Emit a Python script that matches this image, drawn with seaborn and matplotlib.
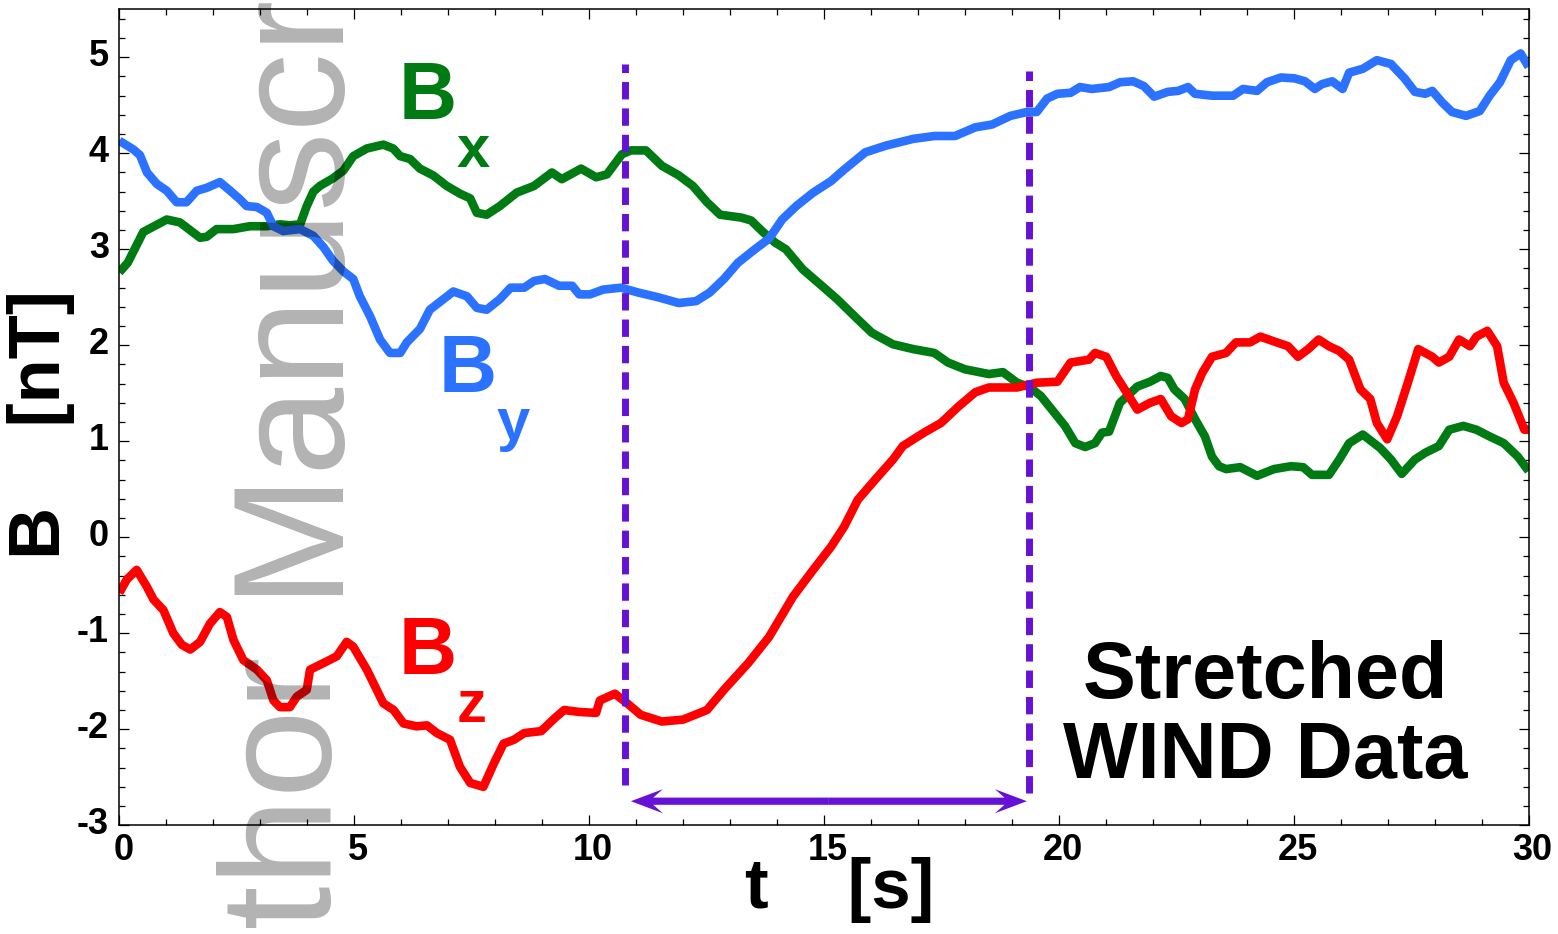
import matplotlib
matplotlib.use("Agg")
import matplotlib.pyplot as plt
import matplotlib.transforms as mtransforms
from matplotlib.ticker import MultipleLocator, FixedLocator, FixedFormatter
from matplotlib.patches import FancyArrow
import seaborn as sns

# ---------------- data ----------------
bx_t = [0, 0.18, 0.51, 1.01, 1.29, 1.72, 1.86, 2.07, 2.43, 2.78,
        3.14, 3.42, 3.63, 3.85, 3.99, 4.13, 4.27, 4.55, 4.77, 4.98,
        5.27, 5.62, 5.83, 5.98, 6.19, 6.40, 6.68, 6.97, 7.25, 7.47,
        7.61, 7.82, 8.10, 8.46, 8.83, 9.21, 9.42, 9.83, 10.15, 10.38,
        10.70, 10.89, 11.21, 11.55, 11.91, 12.21, 12.51, 12.79, 13.24, 13.45,
        13.68, 13.96, 14.19, 14.55, 15.00, 15.28, 15.72, 16.02, 16.47, 16.90,
        17.35, 17.64, 18.00, 18.51, 18.81, 19.11, 19.39, 19.62, 19.90, 20.13,
        20.35, 20.56, 20.77, 20.92, 21.07, 21.30, 21.67, 21.94, 22.17, 22.32,
        22.46, 22.68, 22.90, 23.11, 23.26, 23.41, 23.56, 23.86, 24.22, 24.58,
        24.94, 25.20, 25.39, 25.75, 25.97, 26.18, 26.47, 26.84, 27.07, 27.30,
        27.58, 27.80, 28.09, 28.31, 28.61, 28.89, 29.17, 29.47, 29.77, 30.0]
bx_v = [2.76, 2.86, 3.18, 3.31, 3.28, 3.12, 3.13, 3.21, 3.21, 3.24,
        3.24, 3.26, 3.25, 3.26, 3.45, 3.60, 3.66, 3.74, 3.82, 3.97,
        4.05, 4.09, 4.05, 3.97, 3.94, 3.84, 3.77, 3.66, 3.58, 3.53,
        3.38, 3.36, 3.45, 3.59, 3.66, 3.80, 3.73, 3.84, 3.75, 3.78,
        3.99, 4.03, 4.03, 3.87, 3.77, 3.66, 3.49, 3.36, 3.33, 3.30,
        3.19, 3.07, 3.00, 2.79, 2.60, 2.48, 2.27, 2.13, 2.01, 1.96,
        1.92, 1.82, 1.75, 1.70, 1.72, 1.61, 1.56, 1.47, 1.30, 1.16,
        0.98, 0.94, 0.98, 1.09, 1.10, 1.40, 1.57, 1.62, 1.68, 1.66,
        1.54, 1.44, 1.23, 1.05, 0.84, 0.74, 0.71, 0.73, 0.64, 0.71,
        0.74, 0.73, 0.65, 0.65, 0.81, 0.98, 1.07, 0.93, 0.81, 0.66,
        0.81, 0.88, 0.95, 1.12, 1.16, 1.12, 1.05, 0.98, 0.84, 0.69]

by_t = [0, 0.30, 0.44, 0.59, 0.80, 1.01, 1.22, 1.43, 1.65, 1.86,
        2.14, 2.36, 2.57, 2.71, 2.93, 3.14, 3.28, 3.49, 3.85, 4.13,
        4.35, 4.55, 4.77, 4.98, 5.12, 5.34, 5.55, 5.76, 5.98, 6.12,
        6.40, 6.61, 6.90, 7.11, 7.40, 7.61, 7.82, 8.10, 8.33, 8.62,
        8.83, 9.06, 9.36, 9.64, 9.79, 10.02, 10.30, 10.68, 11.04, 11.47,
        11.91, 12.28, 12.57, 12.87, 13.17, 13.53, 13.83, 14.11, 14.41, 14.77,
        15.15, 15.43, 15.88, 16.32, 16.90, 17.35, 17.79, 18.22, 18.58, 18.97,
        19.32, 19.53, 19.75, 19.97, 20.25, 20.45, 20.70, 21.07, 21.30, 21.58,
        21.81, 22.03, 22.32, 22.54, 22.75, 22.90, 23.26, 23.71, 23.92, 24.22,
        24.43, 24.73, 25.02, 25.24, 25.45, 25.60, 25.82, 26.04, 26.18, 26.47,
        26.77, 27.07, 27.36, 27.58, 27.80, 27.95, 28.16, 28.37, 28.67, 28.96,
        29.17, 29.39, 29.62, 29.83, 30.0]
by_v = [4.13, 4.04, 3.98, 3.80, 3.68, 3.61, 3.49, 3.49, 3.61, 3.64,
        3.70, 3.61, 3.52, 3.45, 3.44, 3.38, 3.24, 3.19, 3.21, 3.14,
        3.02, 2.88, 2.77, 2.69, 2.51, 2.30, 2.06, 1.92, 1.92, 2.03,
        2.17, 2.37, 2.48, 2.56, 2.51, 2.39, 2.37, 2.48, 2.60, 2.60,
        2.67, 2.69, 2.62, 2.62, 2.53, 2.53, 2.58, 2.60, 2.55, 2.50,
        2.44, 2.46, 2.55, 2.69, 2.86, 3.00, 3.11, 3.31, 3.45, 3.59,
        3.71, 3.83, 4.01, 4.08, 4.15, 4.18, 4.18, 4.27, 4.30, 4.39,
        4.43, 4.43, 4.57, 4.62, 4.63, 4.69, 4.67, 4.69, 4.74, 4.75,
        4.70, 4.59, 4.64, 4.65, 4.69, 4.62, 4.60, 4.60, 4.67, 4.65,
        4.74, 4.79, 4.78, 4.75, 4.67, 4.72, 4.75, 4.67, 4.84, 4.88,
        4.97, 4.93, 4.78, 4.64, 4.62, 4.65, 4.53, 4.43, 4.39, 4.44,
        4.60, 4.74, 4.97, 5.04, 4.90]

bz_t = [0, 0.16, 0.37, 0.58, 0.73, 0.94, 1.15, 1.33, 1.51, 1.72,
        1.93, 2.14, 2.29, 2.43, 2.64, 2.93, 3.14, 3.28, 3.42, 3.63,
        3.78, 3.99, 4.06, 4.35, 4.63, 4.84, 4.98, 5.27, 5.48, 5.62,
        5.84, 6.05, 6.33, 6.55, 6.76, 7.04, 7.25, 7.47, 7.75, 7.97,
        8.18, 8.40, 8.62, 8.98, 9.28, 9.47, 9.79, 10.15, 10.23, 10.55,
        10.81, 11.10, 11.55, 12.00, 12.51, 12.87, 13.39, 13.83, 14.34, 14.77,
        15.15, 15.43, 15.72, 16.09, 16.47, 16.68, 17.13, 17.49, 17.86, 18.22,
        18.51, 19.11, 19.53, 19.97, 20.25, 20.64, 20.77, 21.01, 21.22, 21.44,
        21.67, 21.94, 22.17, 22.39, 22.61, 22.75, 22.90, 23.05, 23.26, 23.56,
        23.77, 24.07, 24.29, 24.58, 24.88, 25.09, 25.31, 25.53, 25.75, 25.97,
        26.18, 26.42, 26.63, 26.77, 26.99, 27.20, 27.43, 27.65, 27.95, 28.09,
        28.31, 28.52, 28.75, 28.89, 29.12, 29.33, 29.47, 29.68, 29.91, 30.0]
bz_v = [-0.58, -0.44, -0.34, -0.51, -0.65, -0.76, -1.00, -1.12, -1.17, -1.09,
        -0.90, -0.78, -0.83, -1.07, -1.28, -1.38, -1.49, -1.70, -1.77, -1.77,
        -1.66, -1.59, -1.38, -1.31, -1.24, -1.09, -1.14, -1.38, -1.59, -1.73,
        -1.80, -1.94, -1.97, -1.96, -2.04, -2.11, -2.39, -2.56, -2.60, -2.36,
        -2.15, -2.11, -2.04, -2.02, -1.88, -1.80, -1.82, -1.83, -1.70, -1.63,
        -1.73, -1.85, -1.92, -1.90, -1.80, -1.59, -1.31, -1.04, -0.62, -0.34,
        -0.10, 0.11, 0.39, 0.60, 0.81, 0.95, 1.09, 1.19, 1.36, 1.51,
        1.56, 1.56, 1.61, 1.62, 1.82, 1.85, 1.92, 1.88, 1.68, 1.51,
        1.33, 1.40, 1.44, 1.26, 1.19, 1.23, 1.54, 1.71, 1.88, 1.92,
        2.03, 2.03, 2.09, 2.04, 1.99, 1.88, 1.96, 2.06, 1.99, 1.94,
        1.85, 1.54, 1.44, 1.19, 1.02, 1.26, 1.61, 1.96, 1.88, 1.82,
        1.88, 2.06, 1.99, 2.09, 2.15, 1.99, 1.61, 1.40, 1.12, 1.12]

x_ticks = [0, 5, 10, 15, 20, 25, 30]
x_tick_labels = ["0", "5", "10", "15", "20", "25", "30"]
y_ticks = [-3, -2, -1, 0, 1, 2, 3, 4, 5]
y_tick_labels = ["-3", "-2", "-1", "0", "1", "2", "3", "4", "5"]

boundary_t = [10.76, 19.37]
boundary_top = [4.93, 4.86]
boundary_bottom = [-2.58, -2.66]
arrow_t = [10.89, 19.32]
arrow_level = -2.75

GREEN = "#007a12"
BLUE = "#2a72ff"
RED = "#ff0000"
PURPLE = "#6611d6"

# ---------------- figure ----------------
sns.set_style("ticks")
plt.rcParams["font.family"] = ["Liberation Sans", "DejaVu Sans"]
plt.rcParams["axes.unicode_minus"] = False
for key in ["text.color", "xtick.color", "ytick.color", "axes.edgecolor",
            "axes.labelcolor", "xtick.labelcolor", "ytick.labelcolor"]:
    plt.rcParams[key] = "black"

W, H = 1558, 934
fig = plt.figure(figsize=(W / 100, H / 100), dpi=100)
left, right, top, bottom = 119.3, 1528.6, 9.3, 825.2
ax = fig.add_axes([left / W, 1 - bottom / H, (right - left) / W, (bottom - top) / H])

lw = 6.2
for tt, vv, col in [(bx_t, bx_v, GREEN), (by_t, by_v, BLUE), (bz_t, bz_v, RED)]:
    sns.lineplot(x=tt, y=vv, ax=ax, color=col, linewidth=lw, sort=False,
                 estimator=None, solid_joinstyle="round", solid_capstyle="butt")

ax.vlines(boundary_t, boundary_bottom, boundary_top, colors=PURPLE,
          linewidth=5, linestyles=[(0, (2.5, 1.3))], zorder=5)

mid = sum(arrow_t) / 2
for end in arrow_t:
    ax.add_patch(FancyArrow(mid, arrow_level, end - mid, 0, width=0.075,
                            head_width=0.25, head_length=0.68, overhang=0.3,
                            length_includes_head=True, color=PURPLE, lw=0, zorder=6))

ax.set_xlim(0, 30)
ax.set_ylim(-3, 5.5)
ax.xaxis.set_major_locator(FixedLocator(x_ticks))
ax.xaxis.set_major_formatter(FixedFormatter(x_tick_labels))
ax.yaxis.set_major_locator(FixedLocator(y_ticks))
ax.yaxis.set_major_formatter(FixedFormatter(y_tick_labels))
ax.xaxis.set_minor_locator(MultipleLocator(1))
ax.yaxis.set_minor_locator(MultipleLocator(0.2))
ax.tick_params(which="both", direction="in", top=True, right=True,
               color="black", width=0.9, labelcolor="black")
ax.tick_params(which="major", length=7.5, labelsize=26)
ax.tick_params(which="minor", length=4)
ax.tick_params(axis="x", which="major", pad=5.5)
ax.tick_params(axis="y", which="major", pad=7.5)
for sp in ax.spines.values():
    sp.set_linewidth(1.1)
    sp.set_color("black")
ax.set_xlabel("")
ax.set_ylabel("")

dx = mtransforms.ScaledTranslation(4 / 100, 0, fig.dpi_scale_trans)
dy = mtransforms.ScaledTranslation(0, 5 / 100, fig.dpi_scale_trans)
for lab in ax.get_xticklabels():
    lab.set_fontweight("bold")
    lab.set_color("black")
    lab.set_transform(lab.get_transform() + dx)
for lab in ax.get_yticklabels():
    lab.set_fontweight("bold")
    lab.set_color("black")
    lab.set_transform(lab.get_transform() + dy)

# component labels
def comp(tb, vb, ts, vs, sub, col):
    ax.text(tb, vb, "B", color=col, fontsize=58, fontweight="bold",
            ha="left", va="baseline", zorder=7)
    ax.text(ts, vs, sub, color=col, fontsize=43, fontweight="bold",
            ha="left", va="baseline", zorder=7)

comp(5.95, 4.36, 7.19, 3.86, "x", GREEN)
comp(6.80, 1.51, 8.04, 1.01, "y", BLUE)
comp(5.95, -1.43, 7.19, -1.92, "z", RED)

ax.text(24.39, -1.67, "Stretched", fontsize=57, fontweight="bold",
        ha="center", va="baseline", color="black", zorder=7)
ax.text(24.39, -2.51, "WIND Data", fontsize=57, fontweight="bold",
        ha="center", va="baseline", color="black", zorder=7)

# axis labels
fig.text(60 / W, 1 - 425 / H, "B    [nT]", rotation=90, rotation_mode="anchor",
         ha="center", va="baseline", fontsize=52, fontweight="bold", color="black")
fig.text(840 / W, 26 / H, "t    [s]", ha="center", va="baseline",
         fontsize=51, fontweight="bold", color="black")

# watermark
fig.text(331 / W, 340 / H, "Manuscript", rotation=90, rotation_mode="anchor",
         ha="left", va="baseline", fontsize=114, color="black", alpha=0.3,
         zorder=20)
fig.text(331 / W, 278 / H, "Author", rotation=90, rotation_mode="anchor",
         ha="right", va="baseline", fontsize=114, color="black", alpha=0.3,
         zorder=20)

fig.savefig("out.png", dpi=100)
